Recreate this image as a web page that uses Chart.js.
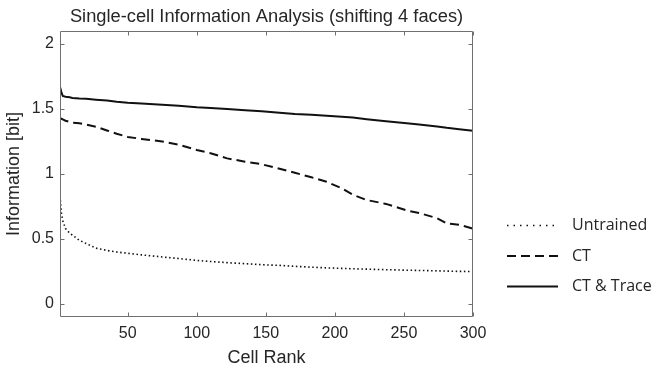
<!DOCTYPE html>
<html>
<head>
<meta charset="utf-8">
<script src="https://cdn.jsdelivr.net/npm/chart.js@4.4.1/dist/chart.umd.min.js"></script>
<style>
  html, body { margin: 0; padding: 0; background: #fff; }
  #chart { display: block; }
</style>
</head>
<body>
<canvas id="chart" width="651" height="365"></canvas>
<script>
// Cell rank at which each curve is sampled
const cellRank = [1, 2, 3, 5, 8, 10, 15, 20, 27, 35, 42, 50, 60, 75, 87, 100, 110, 122, 135, 147,
                  160, 171, 183, 194, 205, 213, 223, 237, 252, 261, 274, 281, 290, 300];

// Information [bit] per ranked cell
const untrained = [0.83, 0.70, 0.64, 0.58, 0.545, 0.53, 0.49, 0.465, 0.43, 0.412, 0.40, 0.39, 0.378, 0.362, 0.35, 0.335, 0.327, 0.318, 0.31, 0.302,
                   0.297, 0.29, 0.283, 0.278, 0.274, 0.271, 0.268, 0.264, 0.26, 0.258, 0.255, 0.253, 0.251, 0.25];
const ct = [1.43, 1.425, 1.42, 1.41, 1.40, 1.395, 1.39, 1.38, 1.364, 1.335, 1.31, 1.285, 1.27, 1.25, 1.225, 1.185, 1.16, 1.12, 1.095, 1.075,
            1.04, 1.01, 0.975, 0.94, 0.89, 0.84, 0.80, 0.77, 0.72, 0.70, 0.66, 0.62, 0.61, 0.58];
const ctTrace = [1.67, 1.63, 1.60, 1.595, 1.59, 1.585, 1.58, 1.578, 1.572, 1.565, 1.555, 1.548, 1.542, 1.532, 1.525, 1.513, 1.507, 1.50, 1.49, 1.482,
                 1.472, 1.462, 1.455, 1.448, 1.44, 1.435, 1.422, 1.405, 1.39, 1.38, 1.365, 1.355, 1.345, 1.333];

const seriesNames = ['Untrained', 'CT', 'CT & Trace'];
const xTicks = [50, 100, 150, 200, 250, 300];
const yTicks = [0, 0.5, 1, 1.5, 2];

const AXIS_COLOR = '#707070';
const TEXT_COLOR = '#262626';
const LINE_COLOR = '#111111';
const FONT = '"Liberation Sans", Arial, Helvetica, sans-serif';

const toPoints = vals => vals.map((v, i) => ({ x: cellRank[i], y: v }));

// box around the plot with inward tick marks on every side, plus title and legend
const boxAxes = {
  id: 'boxAxes',
  afterDraw(chart) {
    const { ctx, chartArea: a, scales: { x, y } } = chart;
    const len = 4;
    const L = Math.round(a.left) + 0.5, R = Math.round(a.right) - 0.5;
    const T = Math.round(a.top) + 0.5, B = Math.round(a.bottom) - 0.5;
    ctx.save();
    ctx.strokeStyle = AXIS_COLOR;
    ctx.lineWidth = 1;
    ctx.beginPath();
    ctx.rect(L, T, R - L, B - T);
    xTicks.forEach(v => {
      const px = Math.round(x.getPixelForValue(v)) + 0.5;
      ctx.moveTo(px, B); ctx.lineTo(px, B - len);
      ctx.moveTo(px, T); ctx.lineTo(px, T + len);
    });
    yTicks.forEach(v => {
      const py = Math.round(y.getPixelForValue(v)) + 0.5;
      ctx.moveTo(L, py); ctx.lineTo(L + len, py);
      ctx.moveTo(R, py); ctx.lineTo(R - len, py);
    });
    ctx.stroke();

    // title
    ctx.fillStyle = TEXT_COLOR;
    ctx.font = '18.3px ' + FONT;
    ctx.textAlign = 'center';
    ctx.textBaseline = 'middle';
    ctx.fillText('Single-cell Information Analysis (shifting 4 faces)', (a.left + a.right) / 2, 17);

    // legend
    const legendDash = [[1.5, 5], [9, 5], []];
    ctx.font = '16px "Open Sans", sans-serif';
    ctx.textAlign = 'left';
    chart.data.datasets.forEach((ds, i) => {
      const ly = 225.5 + i * 30.5;
      ctx.strokeStyle = ds.borderColor;
      ctx.lineWidth = ds.borderWidth;
      ctx.setLineDash(legendDash[i]);
      ctx.beginPath();
      ctx.moveTo(507, ly);
      ctx.lineTo(558, ly);
      ctx.stroke();
      ctx.setLineDash([]);
      ctx.fillStyle = TEXT_COLOR;
      ctx.fillText(ds.label, 572, ly);
    });
    ctx.restore();
  }
};

new Chart(document.getElementById('chart'), {
  type: 'line',
  data: {
    datasets: [
      { label: seriesNames[0], data: toPoints(untrained), borderColor: LINE_COLOR, borderWidth: 1.6, borderDash: [1.5, 2.6] },
      { label: seriesNames[1], data: toPoints(ct), borderColor: LINE_COLOR, borderWidth: 2, borderDash: [9, 5] },
      { label: seriesNames[2], data: toPoints(ctTrace), borderColor: LINE_COLOR, borderWidth: 2 }
    ]
  },
  options: {
    responsive: false,
    animation: false,
    devicePixelRatio: 1,
    layout: { padding: { top: 31, right: 178, left: 0, bottom: 0 } },
    elements: { point: { radius: 0 }, line: { tension: 0 } },
    plugins: { legend: { display: false }, tooltip: { enabled: false }, title: { display: false } },
    scales: {
      x: {
        type: 'linear',
        min: 1,
        max: 300,
        afterBuildTicks: s => { s.ticks = xTicks.map(v => ({ value: v })); },
        afterFit: s => { s.height = 48; },
        grid: { display: false, drawTicks: false },
        border: { display: false },
        ticks: { color: TEXT_COLOR, font: { family: FONT, size: 16 }, padding: 7, maxRotation: 0 },
        title: { display: true, text: 'Cell Rank', color: TEXT_COLOR, font: { family: FONT, size: 18, lineHeight: 0.8 }, padding: 0 }
      },
      y: {
        min: -0.1,
        max: 2.1,
        afterBuildTicks: s => { s.ticks = yTicks.map(v => ({ value: v })); },
        afterFit: s => { s.width = 60; },
        grid: { display: false, drawTicks: false },
        border: { display: false },
        ticks: { color: TEXT_COLOR, font: { family: FONT, size: 16 }, padding: 6, callback: v => String(v) },
        title: { display: true, text: 'Information [bit]', color: TEXT_COLOR, font: { family: FONT, size: 18, lineHeight: 1.2 }, padding: { top: 3, bottom: 0 } }
      }
    }
  },
  plugins: [boxAxes]
});
</script>
</body>
</html>
